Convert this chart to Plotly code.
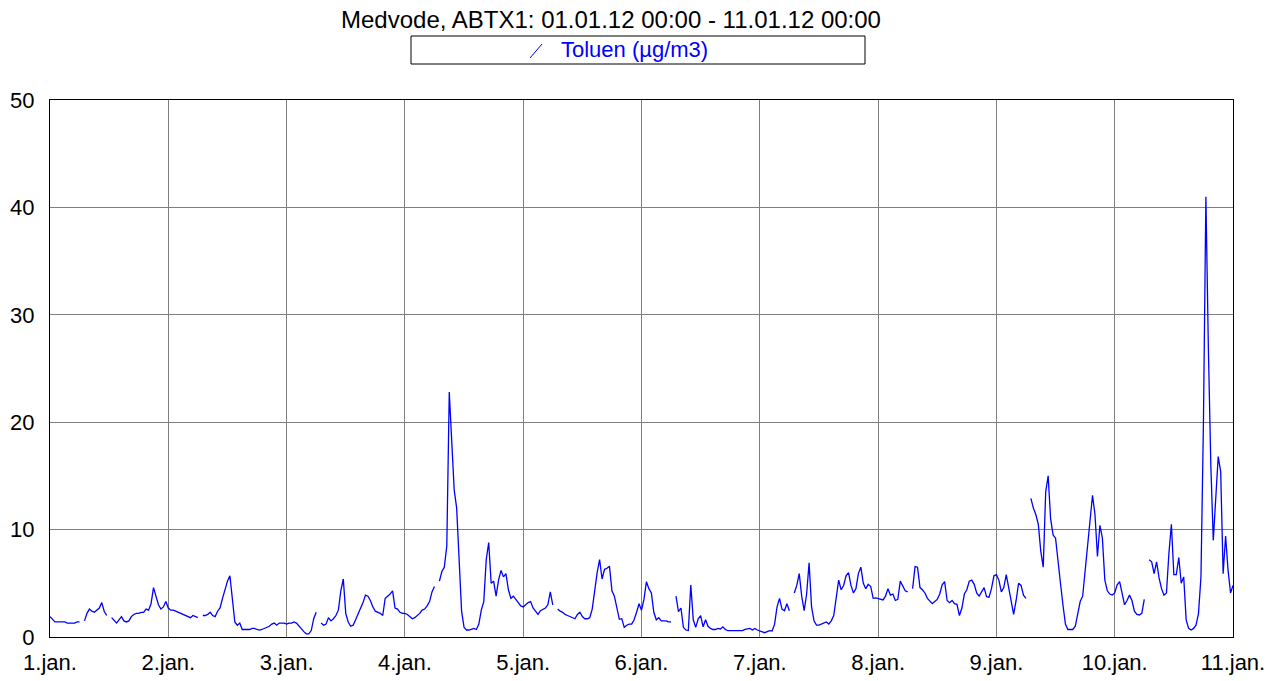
import pandas as pd
import plotly.graph_objects as go

title_text = "Medvode, ABTX1: 01.01.12 00:00 - 11.01.12 00:00"
series_name = "Toluen (µg/m3)"
start_time = "2012-01-01 00:00"
end_time = "2012-01-11 00:00"
step = "30min"
day_labels = ["1.jan.", "2.jan.", "3.jan.", "4.jan.", "5.jan.", "6.jan.",
              "7.jan.", "8.jan.", "9.jan.", "10.jan.", "11.jan."]
y_ticks = [0, 10, 20, 30, 40, 50]

# half-hourly values, None = missing measurement
day1 = [1.9, 1.6, 1.4, 1.4, 1.4, 1.4, 1.4, 1.3, 1.3, 1.3, 1.3, 1.4,
        1.4, None, 1.5, 2.2, 2.6, 2.4, 2.3, 2.5, 2.7, 3.2, 2.4, 2.0,
        None, 1.8, 1.5, 1.3, 1.6, 1.9, 1.5, 1.4, 1.5, 1.9, 2.1, 2.2,
        2.2, 2.3, 2.3, 2.6, 2.5, 3.1, 4.6, 3.8, 3.0, 2.6, 2.8, 3.3]
day2 = [2.7, 2.5, 2.5, 2.4, 2.3, 2.2, 2.1, 2.0, 1.9, 1.8, 2.0, 1.9,
        1.8, None, 2.0, 2.0, 2.1, 2.3, 2.0, 1.9, 2.4, 2.7, 3.6, 4.5,
        5.2, 5.7, 3.2, 1.4, 1.1, 1.3, 0.7, 0.7, 0.7, 0.7, 0.8, 0.8,
        0.7, 0.65, 0.7, 0.8, 0.9, 1.0, 1.2, 1.3, 1.1, 1.3, 1.3, 1.3]
day3 = [1.2, 1.3, 1.3, 1.4, 1.3, 1.0, 0.8, 0.5, 0.3, 0.3, 0.6, 1.7,
        2.3, None, 1.3, 1.1, 1.2, 1.8, 1.5, 1.7, 2.0, 2.5, 4.3, 5.4,
        2.2, 1.4, 1.0, 1.1, 1.6, 2.1, 2.6, 3.2, 3.9, 3.8, 3.4, 2.8,
        2.4, 2.3, 2.2, 2.0, 3.6, 3.8, 4.0, 4.3, 2.7, 2.6, 2.3, 2.2]
day4 = [2.2, 2.1, 1.9, 1.7, 1.8, 2.0, 2.2, 2.5, 2.6, 2.9, 3.3, 4.2,
        4.7, None, 5.2, 6.1, 6.5, 8.5, 22.8, 18.0, 13.7, 12.0, 7.0, 2.4,
        0.9, 0.65, 0.65, 0.7, 0.8, 0.7, 1.2, 2.5, 3.3, 7.2, 8.8, 5.0,
        5.2, 3.8, 5.3, 6.2, 5.6, 5.9, 4.4, 3.6, 3.8, 3.5, 3.2, 2.9]
day5 = [2.8, 3.0, 3.2, 3.3, 2.7, 2.4, 2.1, 2.45, 2.6, 2.7, 3.0, 4.2,
        3.0, None, 2.6, 2.4, 2.3, 2.1, 2.0, 1.9, 1.8, 1.7, 2.1, 2.3,
        1.9, 1.7, 1.7, 1.8, 2.6, 4.5, 6.0, 7.2, 5.4, 6.3, 6.4, 6.6,
        4.3, 3.8, 2.7, 1.65, 1.7, 0.9, 1.1, 1.2, 1.2, 1.6, 2.3, 3.1]
day6 = [2.5, 3.5, 5.15, 4.5, 4.1, 2.3, 1.6, 1.8, 1.5, 1.5, 1.5, 1.4,
        1.4, None, 3.8, 2.35, 2.7, 0.9, 0.65, 0.6, 4.85, 1.6, 0.9, 1.7,
        2.0, 0.95, 1.6, 1.0, 0.8, 0.7, 0.7, 0.8, 0.75, 0.95, 0.7, 0.6,
        0.6, 0.6, 0.6, 0.65, 0.65, 0.6, 0.7, 0.75, 0.8, 0.65, 0.8, 0.65]
day7 = [0.55, 0.45, 0.4, 0.5, 0.6, 0.55, 1.2, 2.8, 3.6, 2.6, 2.45, 3.1,
        2.45, None, 4.1, 4.8, 5.9, 3.8, 2.45, 4.0, 6.9, 2.8, 1.5, 1.1,
        1.1, 1.2, 1.3, 1.4, 1.2, 1.5, 2.0, 3.8, 5.3, 4.4, 4.8, 5.7,
        6.0, 4.8, 4.1, 4.5, 5.9, 6.5, 5.0, 4.5, 4.9, 4.7, 3.6, 3.65]
day8 = [3.6, 3.5, 3.45, 3.8, 4.5, 3.9, 4.0, 3.4, 3.5, 5.2, 4.7, 4.3,
        4.2, None, 4.5, 6.55, 6.5, 4.6, 4.4, 4.1, 3.6, 3.3, 3.1, 3.3,
        3.5, 4.0, 4.85, 5.15, 3.4, 3.2, 3.4, 3.1, 3.05, 2.0, 2.7, 4.0,
        4.4, 5.2, 5.3, 4.9, 4.1, 3.8, 4.2, 4.6, 3.75, 3.7, 4.5, 5.7]
day9 = [5.8, 5.3, 4.2, 4.6, 5.8, 4.6, 3.2, 2.1, 3.4, 5.0, 4.8, 3.9,
        3.6, None, 12.9, 12.0, 11.4, 10.5, 8.0, 6.5, 13.5, 15.0, 11.0, 9.5,
        9.2, 6.9, 5.0, 3.0, 1.2, 0.7, 0.7, 0.7, 1.0, 2.2, 3.3, 3.8,
        6.2, 8.5, 11.2, 13.2, 11.4, 7.5, 10.4, 9.2, 5.3, 4.3, 4.0, 3.9]
day10 = [4.1, 4.85, 5.15, 4.0, 3.0, 3.4, 3.9, 3.4, 2.4, 2.1, 2.05, 2.2,
         3.5, None, 7.2, 7.0, 5.9, 7.0, 5.5, 4.5, 3.9, 4.1, 7.8, 10.5,
         5.8, 5.8, 7.4, 5.0, 5.6, 1.6, 0.8, 0.65, 0.8, 1.1, 2.2, 5.6,
         19.9, 41.0, 27.0, 16.0, 9.0, 12.75, 16.8, 15.4, 5.9, 9.4, 6.2, 4.1]
final_value = [4.8]

values = day1 + day2 + day3 + day4 + day5 + day6 + day7 + day8 + day9 + day10 + final_value
times = pd.date_range(start_time, periods=len(values), freq=step)
tick_dates = pd.date_range(start_time, periods=len(day_labels), freq="D")

FONT = "Liberation Sans, Arial, sans-serif"
W, H = 1278, 681
ML, MR, MT, MB = 50, 45, 100, 44
PW, PH = W - ML - MR, H - MT - MB


def px(x):
    return (x - ML) / PW


def py(y):
    return (H - MB - y) / PH


fig = go.Figure()
fig.add_trace(go.Scatter(
    x=times, y=values, mode="lines", name=series_name,
    line=dict(color="#0000FF", width=1.3),
    connectgaps=False, showlegend=False,
))

grid = "#7f7f7f"
fig.update_xaxes(
    type="date", range=[start_time, end_time],
    tickmode="array", tickvals=tick_dates, ticktext=day_labels,
    showgrid=True, gridcolor=grid, gridwidth=1,
    showline=True, linecolor="black", linewidth=1, mirror=True,
    ticks="", zeroline=False, ticklabelstandoff=6, automargin=False,
    tickfont=dict(family=FONT, size=22, color="black"),
)
fig.update_yaxes(
    range=[0, 50], tickmode="array", tickvals=y_ticks,
    showgrid=True, gridcolor=grid, gridwidth=1,
    showline=True, linecolor="black", linewidth=1, mirror=True,
    ticks="", zeroline=False, ticklabelstandoff=10, automargin=False,
    tickfont=dict(family=FONT, size=22, color="black"),
)

fig.update_layout(
    width=W, height=H,
    margin=dict(l=ML, r=MR, t=MT, b=MB, autoexpand=False),
    paper_bgcolor="white", plot_bgcolor="white",
    font=dict(family=FONT, size=22, color="black"),
    title=dict(text=title_text, xref="paper", x=px(611), xanchor="center",
               yref="container", y=1 - 20 / H, yanchor="middle",
               font=dict(family=FONT, size=24, color="black")),
    shapes=[
        dict(type="rect", xref="paper", yref="paper",
             x0=px(411), x1=px(865), y0=py(64), y1=py(36),
             line=dict(color="black", width=1), fillcolor="white", layer="above"),
        dict(type="line", xref="paper", yref="paper",
             x0=px(530), x1=px(542), y0=py(58), y1=py(44),
             line=dict(color="#0000FF", width=1), layer="above"),
    ],
    annotations=[dict(text=series_name, xref="paper", yref="paper",
                      x=px(559), y=py(50), xanchor="left", yanchor="middle",
                      showarrow=False,
                      font=dict(family=FONT, size=22, color="#0000FF"))],
)

fig.write_html(
    "out.html",
    config={"displayModeBar": False},
    post_script="document.body.style.margin='0';document.body.style.overflow='hidden';",
)
